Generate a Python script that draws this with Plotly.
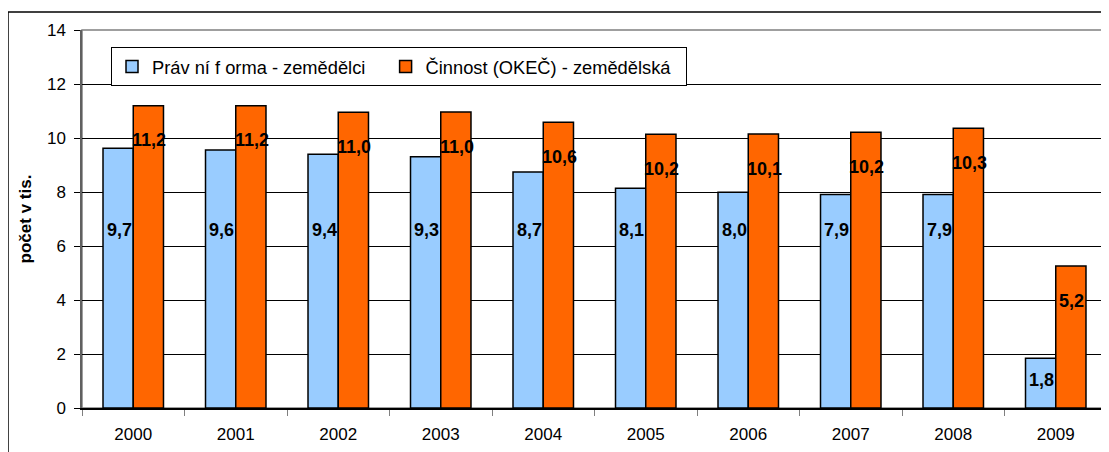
import plotly.graph_objects as go

years = ["2000", "2001", "2002", "2003", "2004", "2005", "2006", "2007", "2008", "2009"]
pravni_forma = [9.62, 9.56, 9.40, 9.31, 8.74, 8.14, 7.99, 7.91, 7.91, 1.84]
cinnost = [11.19, 11.19, 10.95, 10.96, 10.58, 10.14, 10.15, 10.21, 10.36, 5.26]
pravni_labels = ["9,7", "9,6", "9,4", "9,3", "8,7", "8,1", "8,0", "7,9", "7,9", "1,8"]
cinnost_labels = ["11,2", "11,2", "11,0", "11,0", "10,6", "10,2", "10,1", "10,2", "10,3", "5,2"]
y_ticks = [0, 2, 4, 6, 8, 10, 12, 14]

name1 = "Práv ní f orma - zemědělci"
name2 = "Činnost (OKEČ) - zemědělská"

FONT = "Liberation Sans, Arial, sans-serif"
NBSP = "\u00a0"

fig = go.Figure()
fig.add_trace(go.Bar(x=years, y=pravni_forma, name=name1 + NBSP * 3,
                     marker=dict(color="#99CCFF", line=dict(color="black", width=1.5))))
fig.add_trace(go.Bar(x=years, y=cinnost, name=name2 + NBSP * 2,
                     marker=dict(color="#FF6600", line=dict(color="black", width=1.5))))

annotations = []
for i, yr in enumerate(years):
    annotations.append(dict(x=i, y=min(6.6, pravni_forma[i] - 0.8), text=pravni_labels[i],
                            xref="x", yref="y", showarrow=False, xshift=-14,
                            font=dict(family=FONT, size=18, color="black", weight="bold")))
    annotations.append(dict(x=i, y=cinnost[i] - 1.28, text=cinnost_labels[i],
                            xref="x", yref="y", showarrow=False, xshift=16,
                            font=dict(family=FONT, size=18, color="black", weight="bold")))

shapes = [
    dict(type="rect", xref="paper", yref="paper", x0=0, x1=1, y0=0, y1=1,
         line=dict(color="#808080", width=1.5), layer="below"),
    dict(type="line", xref="paper", yref="paper", x0=-0.0722, x1=1.2, y0=1.0476, y1=1.0476,
         line=dict(color="black", width=1.5)),
    dict(type="line", xref="paper", yref="paper", x0=-0.0722, x1=-0.0722, y0=1.0476, y1=-0.3,
         line=dict(color="black", width=1.5)),
]

fig.update_layout(
    width=1109, height=452,
    margin=dict(l=74, r=10, t=22, b=52),
    paper_bgcolor="white", plot_bgcolor="white",
    barmode="group", bargap=0.41, bargroupgap=0,
    font=dict(family=FONT, size=17, color="black"),
    showlegend=True,
    legend=dict(orientation="h", x=0.0283, y=0.955, xanchor="left", yanchor="top",
                bgcolor="white", bordercolor="black", borderwidth=1,
                font=dict(family=FONT, size=18.3, color="black"),
                itemwidth=30, traceorder="normal"),
    annotations=annotations,
    shapes=shapes,
)
fig.update_xaxes(type="category", range=[-0.5, 9.5], automargin=False, showgrid=False,
                 showline=True, linecolor="black", linewidth=1.5,
                 ticks="outside", tickson="boundaries", ticklen=6, tickcolor="#808080",
                 ticklabelstandoff=10,
                 tickfont=dict(family=FONT, size=17, color="black"))
fig.update_yaxes(range=[0, 14], tickvals=y_ticks, automargin=False, showgrid=True,
                 gridcolor="black", gridwidth=1,
                 showline=True, linecolor="#606060", linewidth=1.5, zeroline=False,
                 ticks="outside", ticklen=6, tickcolor="black",
                 ticklabelstandoff=5,
                 tickfont=dict(family=FONT, size=17, color="black"),
                 title=dict(text="<b>počet v tis.</b>", standoff=11,
                            font=dict(family=FONT, size=17, color="black")))

fig.write_html("out.html")
